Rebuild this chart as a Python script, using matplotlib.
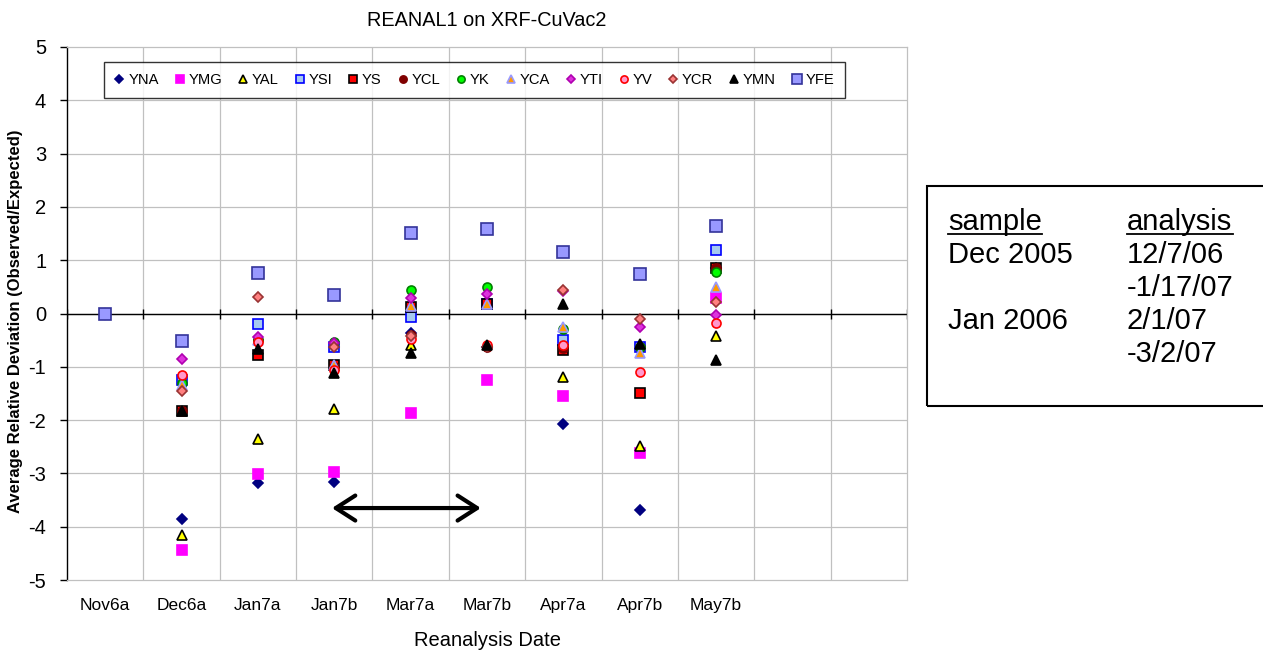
import numpy as np
import matplotlib
matplotlib.use('Agg')
import matplotlib.pyplot as plt
from matplotlib.lines import Line2D
from matplotlib.patches import Rectangle

plt.rcParams['font.family'] = ['Liberation Sans', 'DejaVu Sans']

# reanalysis dates (two trailing empty slots on the category axis)
dates = ['Nov6a', 'Dec6a', 'Jan7a', 'Jan7b', 'Mar7a', 'Mar7b', 'Apr7a', 'Apr7b', 'May7b', '', '']

# average relative deviation per element, one value per date
YNA = [0, -3.86, -3.18, -3.17, -0.36, -0.62, -2.08, -3.68, 0.85]
YMG = [0, -4.44, -3.02, -2.98, -1.86, -1.25, -1.54, -2.62, 0.30]
YAL = [0, -4.16, -2.35, -1.79, -0.60, 0.18, -1.20, -2.48, -0.42]
YSI = [0, -1.25, -0.20, -0.62, -0.07, 0.18, -0.50, -0.63, 1.19]
YS = [0, -1.83, -0.77, -0.97, 0.12, 0.18, -0.68, -1.50, 0.85]
YCL = [0, -1.83, -0.50, -1.00, -0.40, -0.62, -0.65, -0.63, 0.85]
YK = [0, -1.31, -0.50, -0.53, 0.45, 0.49, -0.29, -0.63, 0.78]
YCA = [0, -1.35, -0.50, -0.97, 0.14, 0.18, -0.25, -0.74, 0.49]
YTI = [0, -0.86, -0.45, -0.55, 0.30, 0.37, 0.43, -0.25, -0.03]
YV = [0, -1.15, -0.53, -1.06, -0.47, -0.60, -0.60, -1.09, -0.17]
YCR = [0, -1.45, 0.31, -0.62, -0.42, -0.62, 0.45, -0.11, 0.22]
YMN = [0, -1.83, -0.67, -1.11, -0.75, -0.60, 0.17, -0.58, -0.87]
YFE = [0, -0.52, 0.76, 0.34, 1.51, 1.58, 1.15, 0.75, 1.64]

series = [
  ('YNA', YNA, 'D', 5.5, '#000080', '#000080'),
  ('YMG', YMG, 's', 6.5, '#FF00FF', '#FF00FF'),
  ('YAL', YAL, '^', 6.5, '#FFFF00', '#000000'),
  ('YSI', YSI, 's', 6.5, '#A6CAF0', '#0000FF'),
  ('YS', YS, 's', 7.5, '#FF0000', '#000000'),
  ('YCL', YCL, 'o', 6.5, '#800000', '#800000'),
  ('YK', YK, 'o', 6.5, '#00FF00', '#008000'),
  ('YCA', YCA, '^', 6.5, '#FF9900', '#9999FF'),
  ('YTI', YTI, 'D', 5.0, '#DD33DD', '#B000B0'),
  ('YV', YV, 'o', 6.5, '#FF99CC', '#FF0000'),
  ('YCR', YCR, 'D', 5.0, '#FF8080', '#993333'),
  ('YMN', YMN, '^', 6.5, '#000000', '#000000'),
  ('YFE', YFE, 's', 8.5, '#9999FF', '#333399'),
]

fig = plt.figure(figsize=(12.63, 6.51), dpi=100)
ax = fig.add_axes([67/1263., 71/651., 840/1263., 533/651.])

x = np.arange(len(YNA))
for name, vals, mk, ms, fc, ec in series:
  ax.plot(x, vals, linestyle='none', marker=mk, markersize=ms,
          markerfacecolor=fc, markeredgecolor=ec, markeredgewidth=1.2,
          label=name, zorder=3)

ncat = len(dates)
ax.set_xlim(-0.5, ncat - 0.5)
ax.set_ylim(-5, 5)

# gridlines
grid = '#C0C0C0'
for b in np.arange(0.5, ncat - 0.5, 1.0):
  ax.axvline(b, color=grid, lw=0.9, zorder=0)
for v in range(-4, 5):
  ax.axhline(v, color=grid, lw=0.9, zorder=0)

# category axis crossing at zero, with its tick marks
bounds = np.arange(-0.5, ncat, 1.0)
ax.axhline(0, color='black', lw=1.0, zorder=1)
ax.plot(bounds, np.zeros_like(bounds), linestyle='none', marker='|',
        markersize=7, color='black', mew=1.0, zorder=1)

for s in ['top', 'right', 'bottom']:
  ax.spines[s].set_color(grid)
  ax.spines[s].set_linewidth(0.9)
ax.spines['left'].set_color('black')
ax.spines['left'].set_linewidth(1.0)

ax.set_yticks(range(-5, 6))
ax.set_yticklabels([str(v) for v in range(-5, 6)], fontsize=14.5)
ax.tick_params(axis='y', direction='out', length=5, width=1, pad=10)
ax.set_xticks(x)
ax.set_xticklabels(dates[:len(x)], fontsize=12.5)
ax.tick_params(axis='x', length=0, pad=13)

ax.set_ylabel('Average Relative Deviation (Observed/Expected)', fontsize=12,
              fontweight='bold')
ax.yaxis.set_label_coords(-0.052, 0.485)
fig.text(487/1263., 1 - 640/651., 'Reanalysis Date', fontsize=14.5,
         ha='center', va='center')
fig.text(487/1263., 1 - 20/651., 'REANAL1 on XRF-CuVac2', fontsize=14.3,
         ha='center', va='center')

leg = ax.legend(loc='upper left', bbox_to_anchor=(0.044, 0.972), ncol=13,
                fontsize=10.6, frameon=True, fancybox=False, edgecolor='black',
                markerscale=0.8, handlelength=0.6, handletextpad=0.3,
                columnspacing=1.12, borderpad=0.75, borderaxespad=0)
leg.get_frame().set_linewidth(1.0)

# double arrow for the Jan7b - Mar7b span
ax.annotate('', xy=(2.97, -3.65), xytext=(4.92, -3.65),
            arrowprops=dict(arrowstyle='<->,head_length=0.7,head_width=0.45',
                            lw=3, color='black', mutation_scale=20,
                            shrinkA=0, shrinkB=0))

# side note box
fig.patches.append(Rectangle((927/1263., 1 - 406/651.), 340/1263., 220/651.,
                             transform=fig.transFigure, fill=False,
                             edgecolor='black', lw=1.5))
left_col = ['sample', 'Dec 2005', '', 'Jan 2006', '']
right_col = ['analysis', '12/7/06', '-1/17/07', '2/1/07', '-3/2/07']
base_y = [230, 263, 296, 329, 362]
for a, b, yy in zip(left_col, right_col, base_y):
  fig.text(948/1263., 1 - yy/651., a, fontsize=21, va='baseline')
  fig.text(1127/1263., 1 - yy/651., b, fontsize=21, va='baseline')
# underline the headers
fig.add_artist(Line2D([948/1263., 1042/1263.], [1 - 234/651.] * 2, color='black', lw=1.3))
fig.add_artist(Line2D([1127/1263., 1233/1263.], [1 - 234/651.] * 2, color='black', lw=1.3))

fig.savefig('out.png', dpi=100)
